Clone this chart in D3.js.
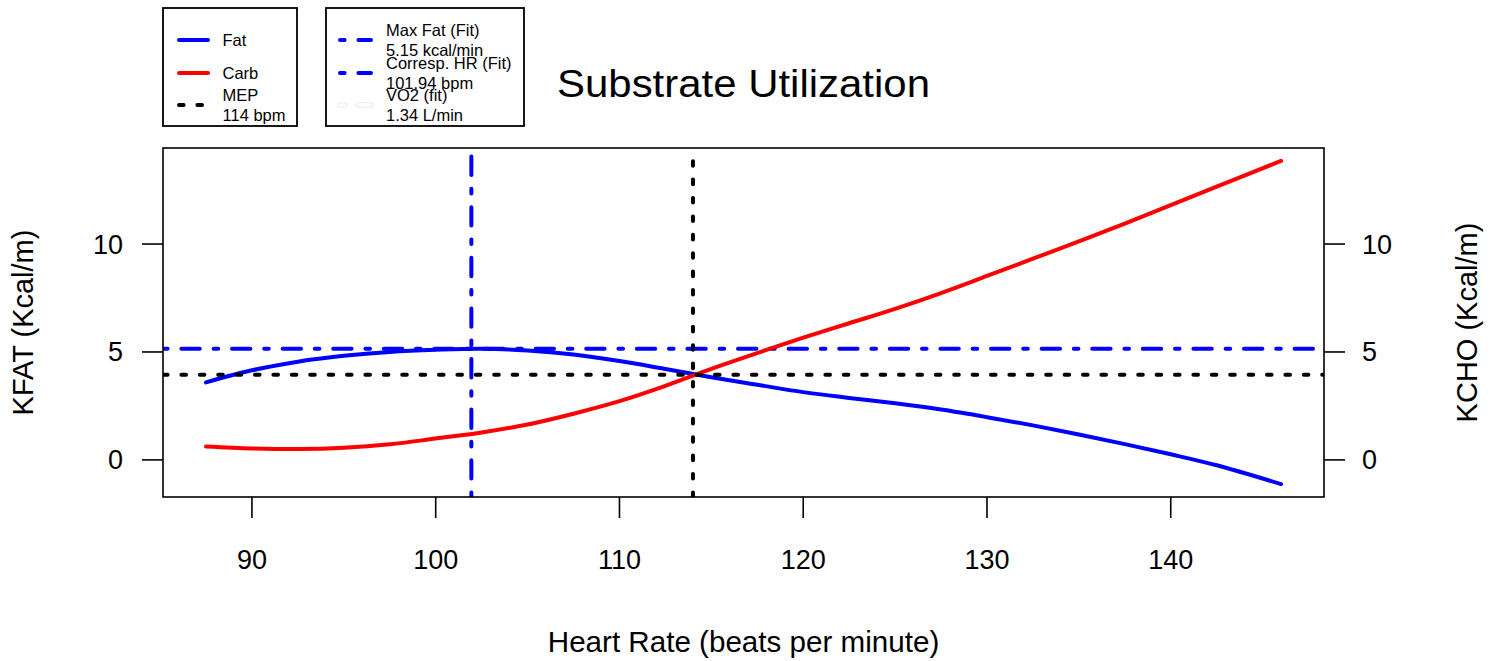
<!DOCTYPE html>
<html>
<head>
<meta charset="utf-8">
<script src="https://cdn.jsdelivr.net/npm/d3@7"></script>
<style>
  html, body { margin: 0; padding: 0; background: #fff; }
  svg { display: block; }
  text { font-family: "Liberation Sans", Arial, Helvetica, sans-serif; fill: #000; }
</style>
</head>
<body>
<svg id="chart" width="1502" height="661"></svg>
<script>
// ---- Data ----
const heartRate = [87.5, 90, 92.5, 95, 97.5, 100, 102.5, 105, 107.5, 110, 112.5, 115, 117.5, 120, 122.5, 125, 127.5, 130, 132.5, 135, 137.5, 140, 142.5, 146];
const fatKcal   = [3.59, 4.15, 4.55, 4.82, 5.00, 5.10, 5.15, 5.07, 4.88, 4.58, 4.21, 3.83, 3.48, 3.14, 2.87, 2.62, 2.33, 1.98, 1.60, 1.18, 0.73, 0.26, -0.25, -1.12];
const carbKcal  = [0.62, 0.53, 0.50, 0.56, 0.72, 0.99, 1.27, 1.64, 2.14, 2.72, 3.43, 4.22, 4.95, 5.66, 6.33, 7.00, 7.73, 8.52, 9.32, 10.12, 10.95, 11.80, 12.66, 13.85];
const xTicks = [90, 100, 110, 120, 130, 140];
const yTicks = [0, 5, 10];
const maxFat = 5.15;        // kcal/min (fit)
const maxFatHR = 101.94;    // bpm
const mepHR = 114;          // bpm
const mepKcal = 3.95;       // crossover level
const legend1 = [
  {lines: ["Fat"], color: "blue", dash: null},
  {lines: ["Carb"], color: "red", dash: null},
  {lines: ["MEP", "114 bpm"], color: "black", dash: "dotted"}
];
const legend2 = [
  {lines: ["Max Fat (Fit)", "5.15 kcal/min"], color: "blue", dash: "dotdash"},
  {lines: ["Corresp. HR (Fit)", "101.94 bpm"], color: "blue", dash: "dotdash"},
  {lines: ["VO2 (fit)", "1.34 L/min"], color: "white", dash: "dotdash"}
];

// ---- Layout ----
const svg = d3.select("#chart");
const L = 163, R = 1324, T = 148, B = 497;
const DASH = {dotted: "4.6,13.8", dotdash: "4.6,13.8,18.4,13.8"};
const LW = 4;

function ext(v) { const [a, b] = d3.extent(v); const d = (b - a) * 0.04; return [a - d, b + d]; }
const x = d3.scaleLinear().domain(ext(heartRate)).range([L, R]);
const y = d3.scaleLinear().domain(ext(fatKcal.concat(carbKcal))).range([B, T]);

svg.append("defs").append("clipPath").attr("id", "plotclip")
  .append("rect").attr("x", L).attr("y", T).attr("width", R - L).attr("height", B - T);

const plot = svg.append("g").attr("clip-path", "url(#plotclip)");
const line = d3.line().x((d, i) => x(heartRate[i])).y(d => y(d)).curve(d3.curveCatmullRom.alpha(0.5));

function seg(g, x1, y1, x2, y2, color, dash, w) {
  return g.append("line").attr("x1", x1).attr("y1", y1).attr("x2", x2).attr("y2", y2)
    .attr("stroke", color).attr("stroke-width", w || LW).attr("stroke-linecap", "round")
    .attr("stroke-dasharray", dash ? DASH[dash] : null);
}

// Fat curve
plot.append("path").datum(fatKcal).attr("d", line).attr("fill", "none")
  .attr("stroke", "blue").attr("stroke-width", LW).attr("stroke-linecap", "round");
// Max fat lines (blue dot-dash)
seg(plot, x.range()[0], y(maxFat), x.range()[1], y(maxFat), "blue", "dotdash");
seg(plot, x(maxFatHR), y.range()[0], x(maxFatHR), y.range()[1], "blue", "dotdash");
// Carb curve
plot.append("path").datum(carbKcal).attr("d", line).attr("fill", "none")
  .attr("stroke", "red").attr("stroke-width", LW).attr("stroke-linecap", "round");
// MEP lines (black dotted)
seg(plot, x.range()[0], y(mepKcal), x.range()[1], y(mepKcal), "black", "dotted");
seg(plot, x(mepHR), y.range()[0], x(mepHR), y.range()[1], "black", "dotted");

// Box
svg.append("rect").attr("x", L).attr("y", T).attr("width", R - L).attr("height", B - T)
  .attr("fill", "none").attr("stroke", "#000").attr("stroke-width", 1.6);

// Axes
const tickFont = 27;
const axX = svg.append("g");
xTicks.forEach(t => {
  axX.append("line").attr("x1", x(t)).attr("x2", x(t)).attr("y1", B).attr("y2", B + 21)
    .attr("stroke", "#000").attr("stroke-width", 1.6);
  axX.append("text").attr("x", x(t)).attr("y", 569).attr("text-anchor", "middle")
    .attr("font-size", tickFont).text(t);
});
const axY = svg.append("g");
yTicks.forEach(t => {
  axY.append("line").attr("x1", L - 21).attr("x2", L).attr("y1", y(t)).attr("y2", y(t))
    .attr("stroke", "#000").attr("stroke-width", 1.6);
  axY.append("text").attr("x", 123).attr("y", y(t) + 9.5).attr("text-anchor", "end")
    .attr("font-size", tickFont).text(t);
  axY.append("line").attr("x1", R).attr("x2", R + 21).attr("y1", y(t)).attr("y2", y(t))
    .attr("stroke", "#000").attr("stroke-width", 1.6);
  axY.append("text").attr("x", 1362).attr("y", y(t) + 9.5).attr("text-anchor", "start")
    .attr("font-size", tickFont).text(t);
});

// Axis titles
const midX = (L + R) / 2, midY = (T + B) / 2;
svg.append("text").attr("x", midX).attr("y", 652).attr("text-anchor", "middle")
  .attr("font-size", 29.6).text("Heart Rate (beats per minute)");
svg.append("text").attr("transform", `translate(33,${midY}) rotate(-90)`).attr("text-anchor", "middle")
  .attr("font-size", 29).text("KFAT (Kcal/m)");
svg.append("text").attr("transform", `translate(1477,${midY}) rotate(-90)`).attr("text-anchor", "middle")
  .attr("font-size", 29).text("KCHO (Kcal/m)");

// Title
svg.append("text").attr("x", midX).attr("y", 97).attr("text-anchor", "middle")
  .attr("font-size", 38).attr("textLength", 373).attr("lengthAdjust", "spacingAndGlyphs")
  .text("Substrate Utilization");

// Legends
const rowY = [40, 73, 105];
function drawLegend(bx, bw, items, symX1, symX2, textX) {
  const g = svg.append("g");
  g.append("rect").attr("x", bx).attr("y", 8).attr("width", bw).attr("height", 118)
    .attr("fill", "#fff").attr("stroke", "#000").attr("stroke-width", 1.8);
  items.forEach((it, i) => {
    const yy = rowY[i];
    if (it.color === "white") {
      seg(g, symX1, yy, symX2, yy, "#e4e4e4", it.dash, LW + 1.2);
      seg(g, symX1, yy, symX2, yy, "#fff", it.dash, LW - 0.6);
    } else {
      seg(g, symX1, yy, symX2, yy, it.color, it.dash);
    }
    if (it.lines.length === 1) {
      g.append("text").attr("x", textX).attr("y", yy + 6).attr("font-size", 16.5).text(it.lines[0]);
    } else {
      g.append("text").attr("x", textX).attr("y", yy - 4).attr("font-size", 16.5).text(it.lines[0]);
      g.append("text").attr("x", textX).attr("y", yy + 16).attr("font-size", 16.5).text(it.lines[1]);
    }
  });
}
drawLegend(163, 134, legend1, 179, 208, 222.5);
drawLegend(326, 198, legend2, 340, 371, 386);
</script>
</body>
</html>
